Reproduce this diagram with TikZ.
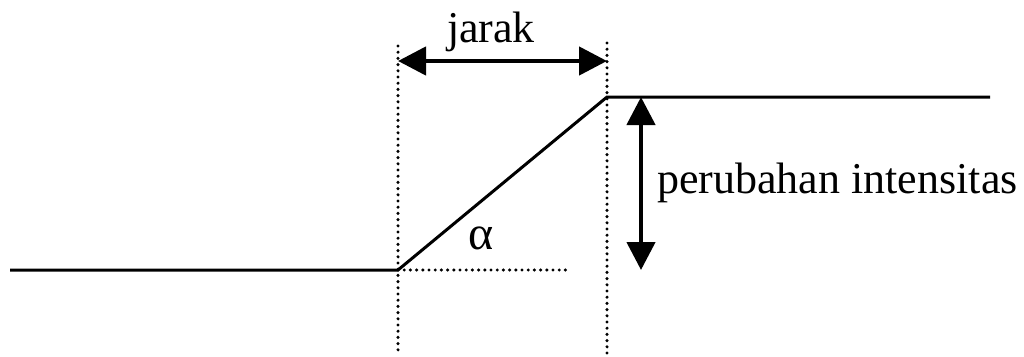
\documentclass[tikz,border=0pt]{standalone}
\usepackage{fontspec}
\setmainfont{Liberation Serif}
\usetikzlibrary{arrows.meta}
\begin{document}
\begin{tikzpicture}[x=1pt,y=-1pt,
  edge/.style={line width=3pt},
  dots/.style={line width=3.4pt,line cap=round,dash pattern=on 0pt off 6.2pt},
  dim/.style={line width=4.5pt,{Triangle[length=28pt,width=28pt]}-{Triangle[length=28pt,width=28pt]}},
  lbl/.style={font=\fontsize{44}{50}\selectfont,inner sep=0pt}]
\useasboundingbox (0,0) rectangle (1024,356);
\coordinate (L) at (10,270);
\coordinate (A) at (398,270);
\coordinate (B) at (607,97);
\coordinate (R) at (990,97);
\coordinate (A1) at (398,46);
\coordinate (A2) at (398,354);
\coordinate (B1) at (607,43);
\coordinate (B2) at (607,354);
\coordinate (H) at (570,270);
\coordinate (J1) at (398,61);
\coordinate (J2) at (607,61);
\coordinate (V1) at (641,97);
\coordinate (V2) at (641,270);
\draw[edge] (L) -- (A) -- (B) -- (R);
\draw[dots] (A1) -- (A2);
\draw[dots] (B1) -- (B2);
\draw[dots] (A) -- (H);
\draw[dim] (J1) -- (J2);
\draw[dim] (V1) -- (V2);
\node[lbl] (jarak) at (491,32) {jarak};
\node[lbl,anchor=west] (pi) at (657,183) {perubahan intensitas};
\node[lbl,font=\fontsize{48}{50}\selectfont] (alpha) at (481,238) {α};
\end{tikzpicture}
\end{document}
